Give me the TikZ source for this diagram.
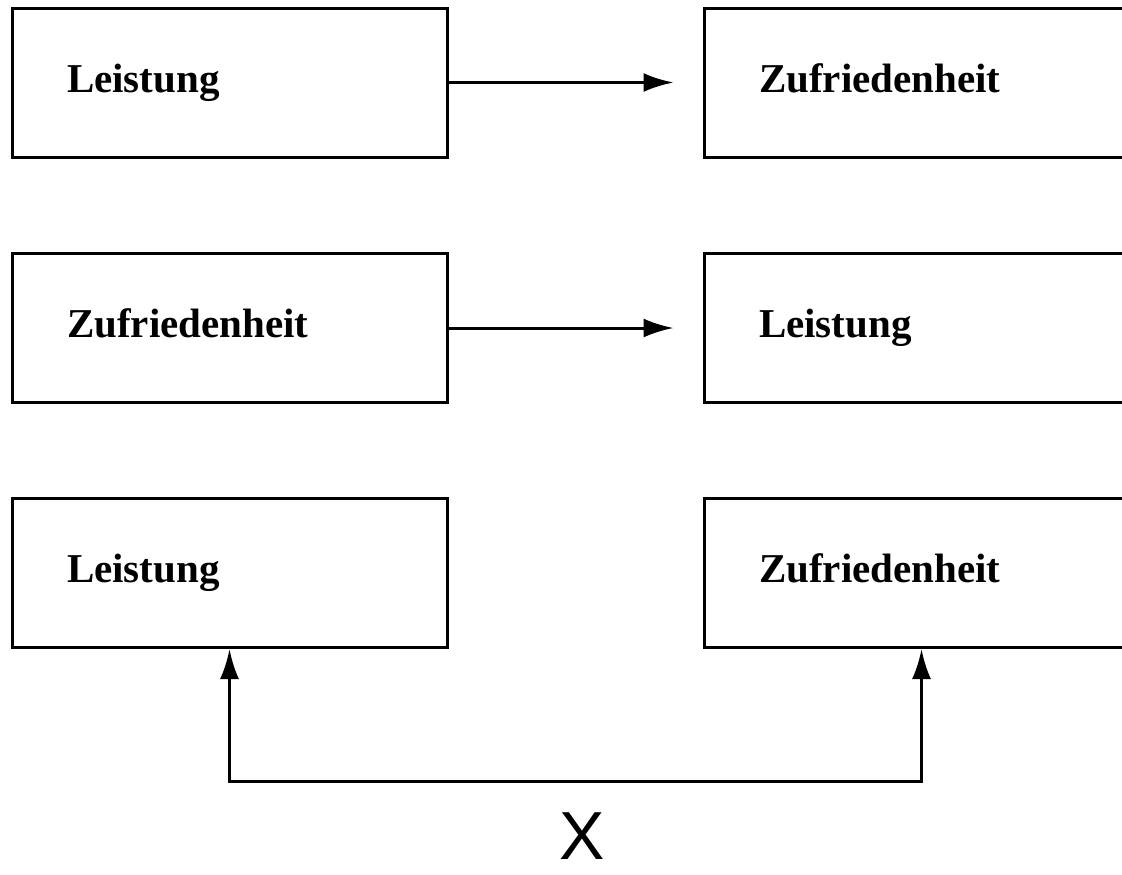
\documentclass[tikz,border=0pt]{standalone}
\usepackage{fontspec}
\setmainfont{Liberation Serif}
\newfontfamily\xfont{Liberation Sans}
\usepackage{tikz}
\usetikzlibrary{positioning, arrows.meta, calc}
\usepackage{xcolor}
\definecolor{strich}{HTML}{000000}

\tikzset{
  kasten/.style={draw=strich, line width=1.5pt, minimum width=217.5pt, minimum height=74.5pt,
    text width=162.5pt, inner xsep=27.5pt, align=left, text height=14pt, text depth=4.4pt,
    font=\bfseries\fontsize{20.5}{24}\selectfont},
  pfeil/.style={draw=strich, line width=1.5pt}
}

\begin{document}
\begin{tikzpicture}[x=0.5pt, y=-0.5pt, >={Latex[length=15pt, width=9.5pt]}]
        \useasboundingbox (0,0) rectangle (1122,874);
        \foreach \row/\y/\links/\rechts in {%
          1/82.5/Leistung/Zufriedenheit,
          2/328/Zufriedenheit/Leistung,
          3/573/Leistung/Zufriedenheit%
        } {
          \node[kasten] (l\row) at (229.5,\y) {\links};
          \node[kasten] (r\row) at (921.5,\y) {\rechts};
        }
        % Pfeile
        \draw[pfeil, ->, shorten >=14.5pt] (l1.east) -- (r1.west);
        \draw[pfeil, ->, shorten >=14.5pt] (l2.east) -- (r2.west);
        \coordinate (basis) at (575,781);
        \draw[pfeil, <->] (l3.south) |- (basis) -| (r3.south);
        \node[font=\xfont\fontsize{34}{40}\selectfont, inner sep=0pt, text depth=0pt] (xvar) at (582,836) {X};
      \end{tikzpicture}
\end{document}
